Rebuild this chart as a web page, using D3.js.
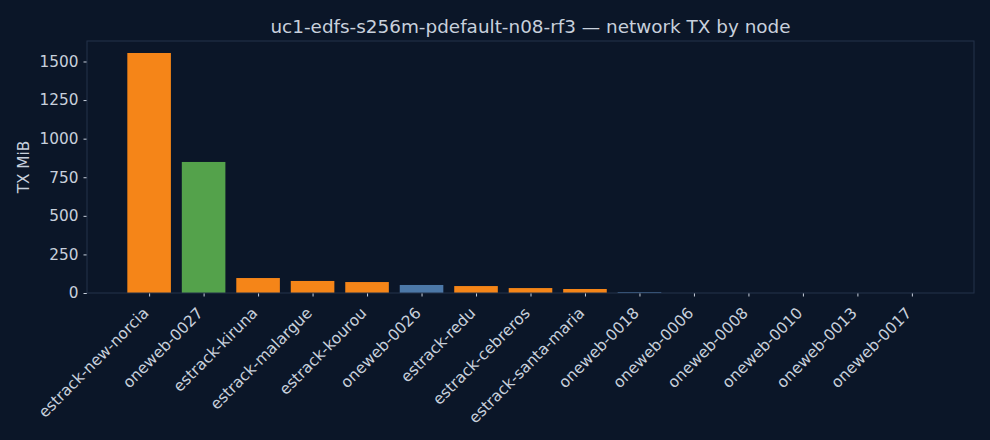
<!DOCTYPE html>
<html>
<head>
<meta charset="utf-8">
<script src="https://cdn.jsdelivr.net/npm/d3@7"></script>
<style>
  html, body { margin: 0; padding: 0; background: #0b1628; }
  svg { display: block; font-family: "DejaVu Sans", sans-serif; }
</style>
</head>
<body>
<svg id="chart" width="990" height="440"></svg>
<script>
const titleText = "uc1-edfs-s256m-pdefault-n08-rf3 — network TX by node";
const yLabel = "TX MiB";
const nodes = ["estrack-new-norcia","oneweb-0027","estrack-kiruna","estrack-malargue","estrack-kourou","oneweb-0026","estrack-redu","estrack-cebreros","estrack-santa-maria","oneweb-0018","oneweb-0006","oneweb-0008","oneweb-0010","oneweb-0013","oneweb-0017"];
const txMiB = [1555, 849, 97, 78, 71, 52, 45, 32, 26, 6, 0, 0, 0, 0, 0];
const groups = ["estrack","oneweb-hot","estrack","estrack","estrack","oneweb","estrack","estrack","estrack","oneweb","oneweb","oneweb","oneweb","oneweb","oneweb"];
const yTicks = [0, 250, 500, 750, 1000, 1250, 1500];

const colorScale = d3.scaleOrdinal()
  .domain(["oneweb","estrack","oneweb-hot"])
  .range(["#4c78a8","#f58518","#54a24b"]);

const W = 990, H = 440;
const m = {left: 87, right: 974, top: 41, bottom: 293};
const textColor = "#c8d0dc";
const spineColor = "#25324a";
const fontFam = "'DejaVu Sans', sans-serif";

const svg = d3.select("#chart");
svg.append("rect").attr("width", W).attr("height", H).attr("fill", "#0b1628");

const n = nodes.length;
const span = (n - 1 + 0.8);
const x = d3.scaleLinear()
  .domain([-0.4 - span * 0.05, n - 1 + 0.4 + span * 0.05])
  .range([m.left, m.right]);
const yMax = d3.max(txMiB) * 1.05;
const y = d3.scaleLinear().domain([0, yMax]).range([m.bottom, m.top]);

// bars
const bw = x(0.8) - x(0);
svg.append("g").selectAll("rect")
  .data(txMiB)
  .join("rect")
  .attr("x", (d, i) => x(i) - bw / 2)
  .attr("width", bw)
  .attr("y", d => y(d))
  .attr("height", d => y(0) - y(d))
  .attr("fill", (d, i) => colorScale(groups[i]));

// y axis
const yAxis = d3.axisLeft(y).tickValues(yTicks).tickSize(3.5).tickPadding(5).tickFormat(d3.format("d"));
const gy = svg.append("g").attr("transform", `translate(${m.left},0)`).call(yAxis);
gy.select(".domain").remove();
gy.selectAll(".tick line").attr("stroke", textColor);
gy.selectAll(".tick text").attr("fill", textColor).attr("font-size", "15.3px")
  .attr("font-family", fontFam);

// x axis
const xAxis = d3.axisBottom(x).tickValues(d3.range(n)).tickSize(3.5).tickFormat(i => nodes[i]);
const gx = svg.append("g").attr("transform", `translate(0,${m.bottom})`).call(xAxis);
gx.select(".domain").remove();
gx.selectAll(".tick line").attr("stroke", textColor);
gx.selectAll(".tick text")
  .attr("fill", textColor).attr("font-size", "15.5px")
  .attr("font-family", fontFam)
  .attr("text-anchor", "end")
  .attr("x", 0).attr("y", 0).attr("dy", 0)
  .attr("transform", "translate(0,21) rotate(-45)");

// spines
svg.append("rect")
  .attr("x", m.left).attr("y", m.top)
  .attr("width", m.right - m.left).attr("height", m.bottom - m.top)
  .attr("fill", "none").attr("stroke", spineColor).attr("stroke-width", 1);

// title
svg.append("text")
  .attr("x", (m.left + m.right) / 2).attr("y", 33)
  .attr("text-anchor", "middle")
  .attr("font-family", fontFam)
  .attr("fill", textColor).attr("font-size", "18.4px")
  .text(titleText);

// y label
svg.append("text")
  .attr("transform", `translate(29,${(m.top + m.bottom) / 2}) rotate(-90)`)
  .attr("text-anchor", "middle")
  .attr("font-family", fontFam)
  .attr("fill", textColor).attr("font-size", "15.3px")
  .text(yLabel);
</script>
</body>
</html>
